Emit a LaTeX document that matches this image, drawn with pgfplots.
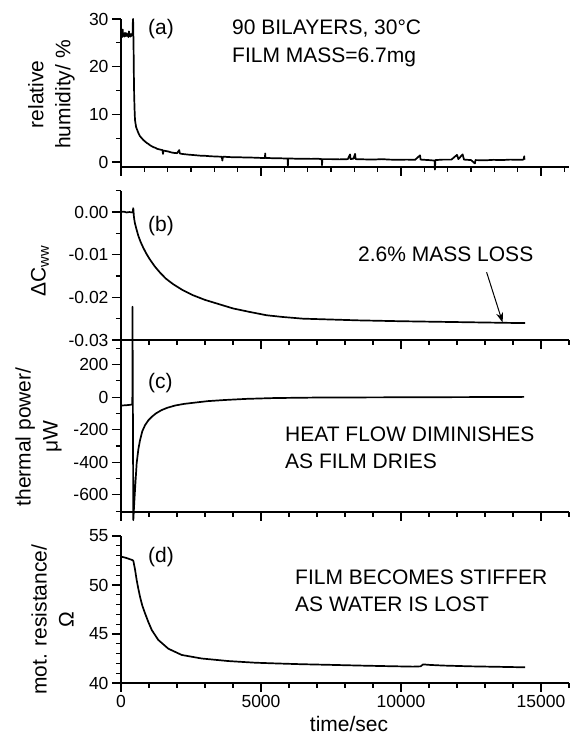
\documentclass[border=0pt]{standalone}
\usepackage{fontspec}
\setmainfont{Liberation Sans}
\usepackage{pgfplots}
\pgfplotsset{compat=1.18}
\usetikzlibrary{arrows.meta}

\newcommand\labelfont{\fontsize{21}{27}\selectfont}
\newcommand\tickfont{\fontsize{17.5}{20}\selectfont}

\pgfplotsset{
  panel/.style={
    scale only axis, width=448pt, xmin=0, xmax=16000,
    axis lines*=left, axis line style={-, line width=1.2pt},
    tick align=outside, major tick length=9pt, minor tick length=5pt,
    tick style={black, line width=1.1pt},
    xtick={0,5000,10000,15000}, xticklabels={},
    minor xtick={0,1000,...,16000},
    tick label style={font=\tickfont},
    /pgf/number format/assume math mode=true,
    scaled ticks=false,
    clip=false,
    label style={font=\labelfont, align=center},
    ylabel style={anchor=center},
    cycle list={{black, mark=none}},
    every axis plot/.append style={line width=1.7pt, line join=round},
  }
}

\begin{document}
\begin{tikzpicture}
\path[use as bounding box] (0,0) rectangle (571pt,737pt);

% (a) relative humidity
\begin{axis}[panel, at={(121pt,570pt)}, anchor=south west, height=148pt,
  ymin=-1.05, ymax=30, ytick={0,10,20,30}, minor ytick={5,15,25},
  minor xtick={0,833.333,...,16000},
  ylabel={relative\\humidity/ \%},
  ylabel style={at={(axis description cs:-0.155,0.49)}}]
\addplot coordinates {
(0,26.4) (20,26.9) (40,26.2) (60,27.8) (75,26.5) (95,26.8) (115,26.3) (140,27.1)
(160,26.6) (180,26.4) (200,27.0) (220,26.5) (245,26.8) (265,26.2) (285,27.4)
(300,26.6) (320,26.9) (340,26.3) (360,26.7) (380,26.5) (400,27.0) (415,26.6)
(425,29.9) (432,30.0) (440,27.5) (450,23.5) (460,18.0) (470,14.0) (485,11.0)
(500,8.8) (540,7.3) (620,6.1) (680,5.4) (740,5.0) (800,4.6) (860,4.3) (920,4.0)
(975,3.8) (1040,3.5) (1100,3.3) (1160,3.1) (1220,3.0) (1280,2.8) (1330,2.7)
(1400,2.6) (1480,2.5) (1500,1.7) (1520,2.4) (1600,2.3) (1690,2.2) (1800,2.0)
(1900,1.9) (2000,1.85) (2080,2.5) (2100,1.8) (2170,1.7) (2400,1.55) (2600,1.45)
(2880,1.3) (3000,1.3) (3200,1.2) (3400,1.15) (3600,1.1) (3620,0.3) (3640,1.1)
(3710,1.1) (3800,1.05) (4000,1.0) (4200,1.0) (4400,0.95) (4540,0.95) (4800,0.9)
(5000,0.85) (5140,0.85) (5150,1.8) (5160,0.85) (5400,0.8) (5600,0.8) (5800,0.75)
(5950,0.75) (5960,-0.8) (5970,0.75) (6200,0.7) (6500,0.7) (6800,0.65) (7000,0.7)
(7170,0.6) (7180,-0.7) (7190,0.6) (7500,0.6) (7800,0.55) (8100,0.6) (8180,1.6)
(8200,0.6) (8300,0.7) (8360,1.7) (8380,0.6) (8700,0.55) (9000,0.5) (9300,0.6)
(9600,0.5) (9900,0.45) (10200,0.5) (10500,0.45) (10680,1.4) (10700,0.5)
(11000,0.4) (11200,0.3) (11210,-1.6) (11230,0.4) (11500,0.5) (11800,0.5)
(12000,1.5) (12050,0.6) (12200,1.6) (12250,0.5) (12500,0.4) (12640,-0.3)
(12660,0.4) (13000,0.35) (13300,0.45) (13600,0.4) (13900,0.5) (14200,0.45)
(14380,0.5) (14400,1.2) (14410,0.5)
};
\end{axis}

% (b) mass change
\begin{axis}[panel, at={(121pt,397pt)}, anchor=south west, height=149.3pt,
  ymin=-0.03, ymax=0.005, ytick={-0.03,-0.02,-0.01,0},
  yticklabels={-0.03,-0.02,-0.01,0.00},
  minor ytick={-0.025,-0.015,-0.005,0.005},
  ylabel={ΔC\textsubscript{ww}},
  ylabel style={at={(axis description cs:-0.181,0.46)}}]
\addplot coordinates {
(0,0.0000) (100,0.0001) (200,-0.0001) (300,0.0000) (400,-0.0001) (425,0.0000)
(435,0.0009) (445,0.0005) (460,-0.0010) (480,-0.0020) (500,-0.0027)
(560,-0.0042) (620,-0.0056) (700,-0.0070) (790,-0.0083) (900,-0.0097)
(1020,-0.0110) (1200,-0.0127) (1380,-0.0141) (1600,-0.0156) (1860,-0.0169)
(2200,-0.0183) (2570,-0.0195) (3000,-0.0206) (3400,-0.0214) (4000,-0.0226)
(4580,-0.0234) (5200,-0.0242) (5770,-0.0246) (6500,-0.0250) (7500,-0.0252)
(8500,-0.0254) (9250,-0.0255) (10000,-0.0256) (11000,-0.0257)
(12000,-0.0258) (13000,-0.0259) (14000,-0.0260) (14430,-0.0260)
};
\draw[-{Stealth[length=10pt,width=7pt]}, line width=1pt]
  (axis cs:13057,-0.0141) -- (axis cs:13630,-0.0259);
\end{axis}

% (c) thermal power
\begin{axis}[panel, at={(121pt,225pt)}, anchor=south west, height=172pt,
  ymin=-705, ymax=350, ytick={-600,-400,-200,0,200},
  yticklabels={-600,-400,-200,0,200},
  minor ytick={-700,-500,-300,-100,100,300},
  ylabel={thermal power/\\μW},
  ylabel style={at={(axis description cs:-0.184,0.436)}}]
\addplot coordinates {
(0,-52) (100,-51) (200,-50) (300,-48) (400,-46) (405,-46) (410,554)
(440,-755) (470,-660) (500,-570) (560,-405) (620,-320) (680,-264) (760,-210)
(860,-172) (980,-142) (1100,-121) (1250,-100) (1450,-80) (1650,-66)
(1930,-52) (2250,-42) (2640,-34) (3100,-25) (3710,-18) (4500,-11)
(5500,-6) (7000,-3) (9000,-2) (11000,-1) (13000,0) (14400,1)
};
\end{axis}

% (d) motional resistance
\begin{axis}[panel, at={(121pt,54pt)}, anchor=south west, height=147pt,
  ymin=40, ymax=55, ytick={40,45,50,55}, yticklabels={40,45,50,55},
  minor ytick={41,42,43,44,46,47,48,49,51,52,53,54},
  xticklabels={0,5000,10000,15000},
  xlabel={time/sec},
  xlabel style={at={(axis description cs:0.509,-0.33)}, anchor=base},
  ylabel={mot. resistance/\\Ω},
  ylabel style={at={(axis description cs:-0.153,0.43)}}]
\addplot coordinates {
(0,52.90) (100,52.83) (200,52.75) (300,52.65) (400,52.55) (440,52.48)
(500,51.6) (560,50.5) (620,49.6) (680,48.8) (760,47.9) (860,47.1)
(980,46.2) (1100,45.4) (1330,44.4) (1690,43.5) (2170,42.86) (2880,42.5)
(3830,42.24) (4790,42.07) (5500,42.0) (6400,41.92) (7500,41.85)
(8500,41.78) (9500,41.72) (10430,41.67) (10700,41.70) (10790,41.90)
(11000,41.85) (11500,41.78) (12500,41.70) (13500,41.65) (14430,41.60)
};
\end{axis}

% panel tags and notes
\begin{scope}[every node/.style={font=\labelfont, inner sep=0pt, anchor=base west}]
\node at (148pt,702pt) {(a)};
\node at (232pt,702pt) {90 BILAYERS, 30°C};
\node at (232pt,674pt) {FILM MASS=6.7mg};
\node at (148pt,505pt) {(b)};
\node at (358pt,475pt) {2.6\% MASS LOSS};
\node at (148pt,348pt) {(c)};
\node at (285pt,295pt) {HEAT FLOW DIMINISHES};
\node at (285pt,268pt) {AS FILM DRIES};
\node at (148pt,174pt) {(d)};
\node at (295pt,152pt) {FILM BECOMES STIFFER};
\node at (295pt,125pt) {AS WATER IS LOST};
\end{scope}
\end{tikzpicture}
\end{document}
